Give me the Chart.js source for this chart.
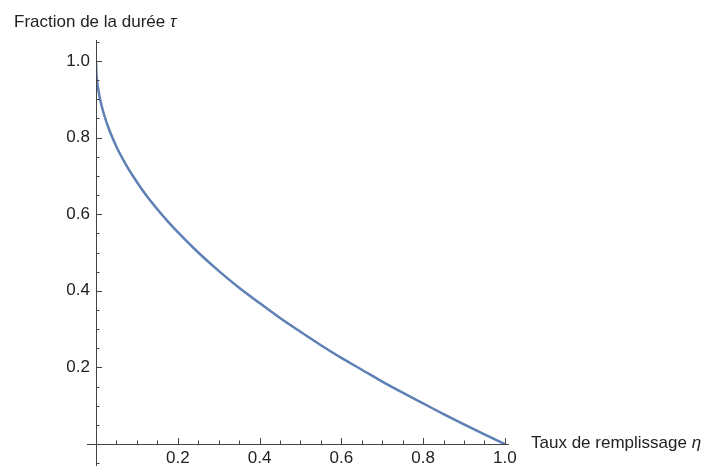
<!DOCTYPE html>
<html>
<head>
<meta charset="utf-8">
<script src="https://cdn.jsdelivr.net/npm/chart.js@4"></script>
<style>
  body { margin: 0; background: #fff; }
  #wrap { width: 708px; height: 466px; }
</style>
</head>
<body>
<div id="wrap"><canvas id="curveChart"></canvas></div>
<script>
// valeurs
const eta = [0, 0.001, 0.003, 0.006, 0.01, 0.015, 0.02, 0.03, 0.04, 0.05, 0.065, 0.08, 0.1, 0.125, 0.15, 0.175, 0.2, 0.25, 0.3, 0.35, 0.4, 0.45, 0.5, 0.55, 0.6, 0.65, 0.7, 0.75, 0.8, 0.85, 0.9, 0.95, 1.0];
const tau = [1.0, 0.968, 0.945, 0.923, 0.9, 0.878, 0.859, 0.827, 0.8, 0.776, 0.745, 0.717, 0.684, 0.646, 0.613, 0.582, 0.553, 0.5, 0.452, 0.408, 0.368, 0.329, 0.293, 0.258, 0.225, 0.194, 0.163, 0.134, 0.106, 0.078, 0.051, 0.025, 0];
const xTickLabels = ['0.2', '0.4', '0.6', '0.8', '1.0'];
const yTickLabels = ['0.2', '0.4', '0.6', '0.8', '1.0'];
const yTitle = ['Fraction de la durée ', 'τ'];
const xTitle = ['Taux de remplissage ', 'η'];

const FONT = '"Liberation Sans", Arial, sans-serif';
const AXIS_COLOR = '#444';
const TEXT_COLOR = '#222';

function tickLabel(list) {
    return function (value) {
        const s = value.toFixed(1);
        return (Math.abs(value * 5 - Math.round(value * 5)) < 1e-6 && list.includes(s)) ? s : '';
    };
}

// axes à la Mathematica : lignes qui se croisent à l'origine, graduations vers l'intérieur
const axesPlugin = {
    id: 'axesMath',
    afterDraw(chart) {
        const ctx = chart.ctx;
        const x = chart.scales.x, y = chart.scales.y;
        const area = chart.chartArea;
        const x0 = x.getPixelForValue(0), y0 = y.getPixelForValue(0);

        ctx.save();
        ctx.strokeStyle = AXIS_COLOR;
        ctx.lineWidth = 1;
        ctx.beginPath();
        ctx.moveTo(area.left - 9, Math.round(y0) + 0.5);
        ctx.lineTo(area.right, Math.round(y0) + 0.5);
        ctx.moveTo(Math.round(x0) + 0.5, area.top);
        ctx.lineTo(Math.round(x0) + 0.5, area.bottom);

        x.ticks.forEach(t => {
            if (Math.abs(t.value) < 1e-6) return;
            const px = Math.round(x.getPixelForValue(t.value)) + 0.5;
            const len = t.label ? 6 : 3.5;
            ctx.moveTo(px, y0);
            ctx.lineTo(px, y0 - len);
        });
        y.ticks.forEach(t => {
            if (Math.abs(t.value) < 1e-6) return;
            const py = Math.round(y.getPixelForValue(t.value)) + 0.5;
            const len = t.label ? 6 : 3.5;
            ctx.moveTo(x0, py);
            ctx.lineTo(x0 + len, py);
        });
        ctx.stroke();

        // titres des axes
        ctx.fillStyle = TEXT_COLOR;
        ctx.textBaseline = 'alphabetic';
        ctx.textAlign = 'left';
        function twoPart(parts, tx, ty) {
            ctx.font = '17px ' + FONT;
            ctx.fillText(parts[0], tx, ty);
            const w = ctx.measureText(parts[0]).width;
            ctx.font = 'italic 17px ' + FONT;
            ctx.fillText(parts[1], tx + w, ty);
        }
        twoPart(yTitle, 14, 27);
        twoPart(xTitle, 531, 448);
        ctx.restore();
    }
};

const ctx = document.getElementById('curveChart').getContext('2d');
new Chart(ctx, {
    type: 'line',
    data: {
        datasets: [{
            data: eta.map((e, i) => ({ x: e, y: tau[i] })),
            borderColor: '#5E81B5',
            borderWidth: 2.5,
            pointRadius: 0,
            fill: false,
            cubicInterpolationMode: 'monotone'
        }]
    },
    options: {
        responsive: true,
        maintainAspectRatio: false,
        animation: false,
        events: [],
        layout: { autoPadding: false, padding: { left: 56, right: 199, top: 40, bottom: 0 } },
        plugins: {
            legend: { display: false },
            tooltip: { enabled: false }
        },
        scales: {
            x: {
                type: 'linear',
                position: { y: 0 },
                min: 0,
                max: 1.01,
                afterFit(scale) {
                    scale.height = 0;
                    scale.paddingLeft = 0;
                    scale.paddingRight = 0;
                },
                grid: { display: false, drawTicks: false },
                border: { display: false },
                ticks: {
                    stepSize: 0.05,
                    includeBounds: false,
                    autoSkip: false,
                    maxRotation: 0,
                    padding: 4,
                    color: TEXT_COLOR,
                    font: { family: FONT, size: 17 },
                    callback: tickLabel(xTickLabels)
                }
            },
            y: {
                type: 'linear',
                position: 'left',
                min: -0.0574,
                max: 1.0548,
                afterFit(scale) {
                    scale.width = 40;
                    scale.paddingTop = 0;
                    scale.paddingBottom = 0;
                },
                grid: { display: false, drawTicks: false },
                border: { display: false },
                ticks: {
                    stepSize: 0.05,
                    includeBounds: false,
                    autoSkip: false,
                    padding: 6,
                    color: TEXT_COLOR,
                    font: { family: FONT, size: 17 },
                    callback: tickLabel(yTickLabels)
                }
            }
        }
    },
    plugins: [axesPlugin]
});
</script>
</body>
</html>
